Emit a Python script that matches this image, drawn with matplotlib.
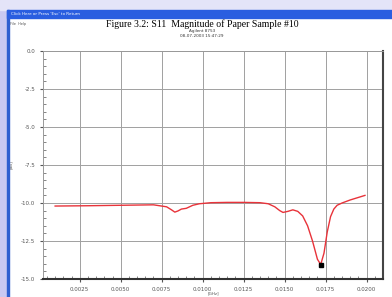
import matplotlib
matplotlib.use("Agg")
import matplotlib.pyplot as plt
from matplotlib.patches import Rectangle
from matplotlib.ticker import MultipleLocator

plt.rcParams["axes.unicode_minus"] = False

# S11 magnitude
freq_ghz = [0.0010, 0.0030, 0.0050, 0.0070, 0.0078, 0.0081, 0.0083, 0.0085,
            0.0087, 0.0090, 0.0094, 0.0098, 0.0105, 0.0115, 0.0125, 0.0135,
            0.0140, 0.0144, 0.0147, 0.0149, 0.0152, 0.0155, 0.0158, 0.0161,
            0.0164, 0.0167, 0.0170, 0.0172, 0.0174, 0.0176, 0.0178, 0.0180,
            0.0182, 0.0185, 0.0190, 0.0199]
s11_db = [-10.20, -10.18, -10.15, -10.12, -10.25, -10.45, -10.60, -10.52,
          -10.40, -10.35, -10.15, -10.05, -9.98, -9.96, -9.96, -9.98,
          -10.05, -10.25, -10.50, -10.62, -10.55, -10.45, -10.55, -10.85,
          -11.50, -12.50, -13.70, -14.05, -13.30, -11.90, -10.90, -10.40,
          -10.15, -10.00, -9.80, -9.50]
min_freq = [0.0172]
min_db = [-14.05]

x_ticks = [0.0025, 0.0050, 0.0075, 0.0100, 0.0125, 0.0150, 0.0175, 0.0200]
y_ticks = [0.0, -2.5, -5.0, -7.5, -10.0, -12.5, -15.0]

W, H = 392, 297
fig = plt.figure(figsize=(W / 100, H / 100), dpi=100, facecolor="white")

# screenshot frame: lavender desktop, blue title bar
fig.patches.append(Rectangle((0, 0), 7 / W, 1, transform=fig.transFigure,
                             color="#c9c9f2", zorder=0))
fig.patches.append(Rectangle((0, 1 - 10 / H), 1, 10 / H,
                             transform=fig.transFigure, color="#e4e4f8",
                             zorder=0))
fig.patches.append(Rectangle((7 / W, 0), 1.5 / W, 1 - 10 / H,
                             transform=fig.transFigure, color="#2f5fd0",
                             zorder=1))
fig.patches.append(Rectangle((7 / W, 1 - 18 / H), 1 - 7 / W, 8 / H,
                             transform=fig.transFigure, color="#2a5ee0",
                             zorder=1))
fig.text(11 / W, 1 - 14 / H, "Click Here or Press 'Esc' to Return",
         fontsize=3, color="white", va="center")
fig.text(10 / W, 1 - 24 / H, "File  Help", fontsize=2.5, color="#555555",
         va="center")

fig.text(0.515, 1 - 24.5 / H, "Figure 3.2: S11  Magnitude of Paper Sample #10",
         fontsize=7, family="Liberation Serif", ha="center", va="center")
fig.text(0.515, 1 - 31 / H, "Agilent 8753", fontsize=3, ha="center",
         va="center", color="#333333")
fig.text(0.515, 1 - 36 / H, "08-07-2003 15:47:29", fontsize=3, ha="center",
         va="center", color="#333333")

ax = fig.add_axes([43 / W, 1 - 279 / H, 340 / W, 228 / H])
ax.plot(freq_ghz, s11_db, color="#e8333a", linewidth=1.0, zorder=3)
ax.plot(min_freq, min_db, marker="s", markersize=2.5, color="black",
        linestyle="none", zorder=4)

ax.set_xlim(0.00026, 0.0210)
ax.set_ylim(-15.0, 0.0)
ax.set_xticks(x_ticks)
ax.set_xticklabels([f"{v:.4f}" for v in x_ticks])
ax.set_yticks(y_ticks)
ax.set_yticklabels([f"{v:.1f}" for v in y_ticks])
ax.xaxis.set_minor_locator(MultipleLocator(0.0005))
ax.yaxis.set_minor_locator(MultipleLocator(0.5))
ax.tick_params(which="both", labelsize=4, labelcolor="#555555",
               color="#555555")
ax.tick_params(which="major", length=2)
ax.tick_params(which="minor", direction="in", length=2, width=0.5)
ax.grid(True, which="major", color="#a0a0a0", linewidth=0.7, zorder=0)

for side in ("top", "left"):
    ax.spines[side].set_color("#999999")
    ax.spines[side].set_linewidth(0.7)
ax.spines["bottom"].set_color("#333333")
ax.spines["bottom"].set_linewidth(1.5)
ax.spines["right"].set_color("#444444")
ax.spines["right"].set_linewidth(1.5)

ax.set_xlabel("[GHz]", fontsize=3, color="#555555", labelpad=0)
ax.set_ylabel("[dB]", fontsize=3, color="#555555", labelpad=6)

fig.savefig("out.png", dpi=100)
